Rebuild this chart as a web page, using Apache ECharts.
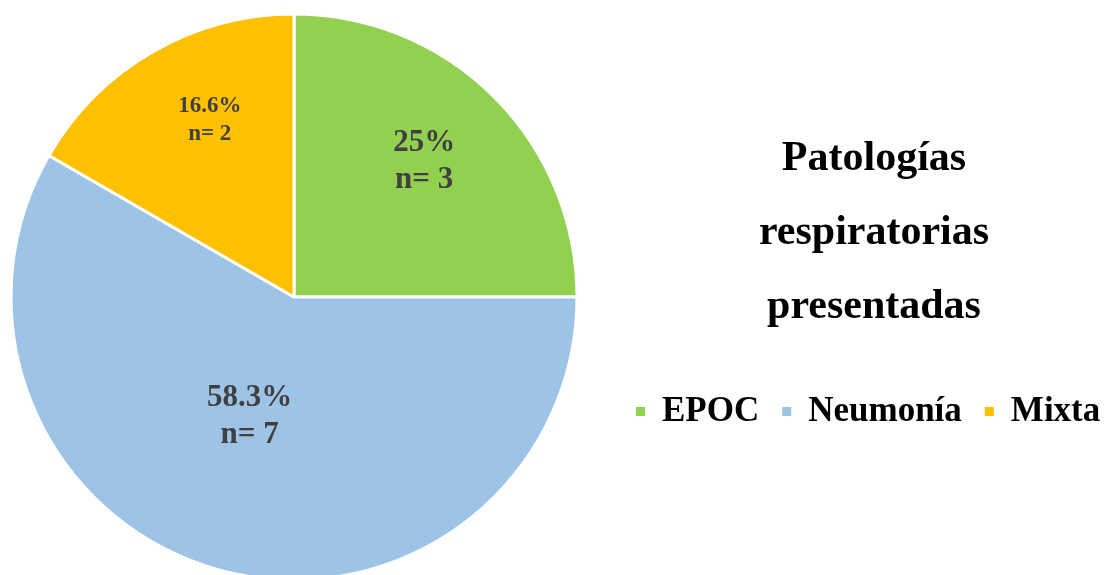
<!DOCTYPE html>
<html>
<head>
<meta charset="utf-8">
<script src="https://cdn.jsdelivr.net/npm/echarts@6/dist/echarts.min.js"></script>
<style>
  html, body { margin: 0; padding: 0; background: #ffffff; }
  #chart { width: 1104px; height: 575px; }
</style>
</head>
<body>
<div id="chart"></div>
<script>
// Patologías respiratorias presentadas (n = 12)
const categories = ['EPOC', 'Neumonía', 'Mixta'];
const counts = [3, 7, 2];
const colors = ['#92D050', '#9DC3E6', '#FFC000'];
const titleLines = ['Patologías', 'respiratorias', 'presentadas'];

const serif = "'Liberation Serif', 'Times New Roman', serif";
const total = counts.reduce((a, b) => a + b, 0);

// percent truncated to one decimal, as printed in the slice labels
function pctText(v) {
  const p = Math.floor(v / total * 1000) / 10;
  return (Number.isInteger(p) ? p.toFixed(0) : p.toFixed(1)) + '%';
}

// per-slice label styling (size and nudge from the default inside anchor)
const labelStyles = [
  { fontSize: 31, lineHeight: 37, offset: [28, -33] },
  { fontSize: 31, lineHeight: 37, offset: [-7, -20] },
  { fontSize: 23, lineHeight: 28, offset: [-12, -52] }
];

const data = categories.map((name, i) => ({
  name: name,
  value: counts[i],
  itemStyle: { color: colors[i] },
  label: labelStyles[i]
}));

const chart = echarts.init(document.getElementById('chart'), null, { renderer: 'canvas' });
chart.setOption({
  animation: false,
  backgroundColor: '#ffffff',
  title: {
    text: titleLines.join('\n'),
    left: 874,
    top: 122,
    padding: 0,
    textAlign: 'center',
    textStyle: {
      fontFamily: serif,
      fontWeight: 'bold',
      fontSize: 42,
      lineHeight: 74,
      color: '#000000'
    }
  },
  legend: {
    data: categories,
    left: 634,
    top: 394,
    width: 470,
    padding: 0,
    orient: 'horizontal',
    icon: 'rect',
    itemWidth: 11,
    itemHeight: 11,
    itemGap: 21,
    selectedMode: false,
    textStyle: {
      fontFamily: serif,
      fontWeight: 'bold',
      fontSize: 35,
      color: '#000000',
      padding: [0, 0, 0, 11]
    }
  },
  series: [{
    type: 'pie',
    center: [294, 297],
    radius: 283,
    startAngle: 90,
    clockwise: true,
    avoidLabelOverlap: false,
    itemStyle: { borderColor: '#ffffff', borderWidth: 3 },
    label: {
      show: true,
      position: 'inside',
      fontFamily: serif,
      fontWeight: 'bold',
      color: '#404040',
      formatter: p => pctText(p.value) + '\nn= ' + p.value
    },
    labelLine: { show: false },
    emphasis: { disabled: true },
    data: data
  }]
});
</script>
</body>
</html>
